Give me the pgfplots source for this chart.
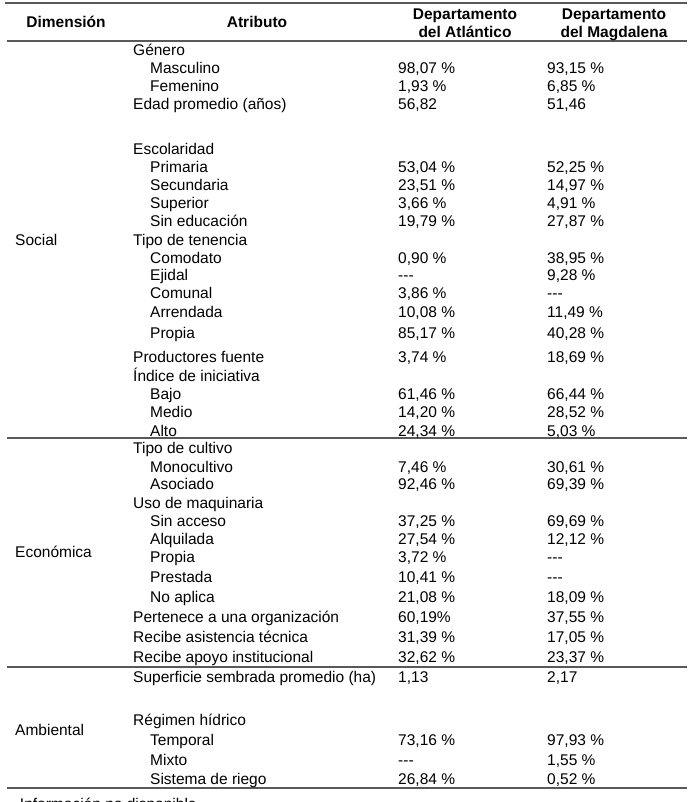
\documentclass[border=0pt]{standalone}
\usepackage{fontspec}
\setmainfont{Liberation Sans}
\usepackage{pgfplots}
\pgfplotsset{compat=1.18}

\newcommand{\nd}{-{}-{}-}

\pgfplotsset{
  cell/.style={only marks, mark=none, point meta=explicit symbolic,
    nodes near coords, nodes near coords style={anchor=base west, inner sep=0pt,
      yshift=-5.6bp, text=black, font=\fontsize{15.5bp}{18bp}\selectfont}},
  head/.style={only marks, mark=none, point meta=explicit symbolic,
    nodes near coords, nodes near coords style={anchor=base, inner sep=0pt,
      yshift=-5.6bp, text=black, font=\fontsize{15.5bp}{18bp}\selectfont\bfseries}},
  rule/.style={black!65, line width=1.4bp, mark=none},
}

\begin{document}
\begin{tikzpicture}
\useasboundingbox (0,0) rectangle (693bp,802bp);
\begin{axis}[at={(0,0)}, anchor=south west, scale only axis,
  width=693bp, height=802bp, xmin=0, xmax=693, ymin=0, ymax=802,
  y dir=reverse, hide axis, clip=false]

% rules
\addplot[rule] coordinates {(5,3)(687,3)};
\addplot[rule] coordinates {(7,41)(687,41)};
\addplot[rule] coordinates {(7,438)(687,438)};
\addplot[rule] coordinates {(7,667)(687,667)};
\addplot[rule] coordinates {(7,788)(687,788)};

% header
\addplot[head] coordinates {
  (66,22) [Dimensión] (257,22) [Atributo]
  (465,14) [Departamento] (465,32) [del Atlántico]
  (614,14) [Departamento] (614,32) [del Magdalena]};

% dimension column
\addplot[cell] coordinates {(15,240) [Social] (15,552) [Económica] (15,730) [Ambiental]};

% attribute column, level 0
\addplot[cell] coordinates {
  (133,50) [Género] (133,104) [Edad promedio (años)] (133,149) [Escolaridad]
  (133,240) [Tipo de tenencia] (133,357) [Productores fuente] (133,376) [Índice de iniciativa]
  (133,448) [Tipo de cultivo] (133,503) [Uso de maquinaria]
  (133,617) [Pertenece a una organización] (133,637) [Recibe asistencia técnica]
  (133,657) [Recibe apoyo institucional]
  (133,677) [Superficie sembrada promedio (ha)] (133,720) [Régimen hídrico]};

% attribute column, level 1
\addplot[cell] coordinates {
  (150,68) [Masculino] (150,86) [Femenino]
  (150,167) [Primaria] (150,185) [Secundaria] (150,203) [Superior] (150,221) [Sin educación]
  (150,258) [Comodato] (150,275) [Ejidal] (150,293) [Comunal] (150,312) [Arrendada] (150,333) [Propia]
  (150,394) [Bajo] (150,412) [Medio] (150,431) [Alto]
  (150,467) [Monocultivo] (150,484) [Asociado]
  (150,521) [Sin acceso] (150,539) [Alquilada] (150,557) [Propia] (150,577) [Prestada] (150,597) [No aplica]
  (150,740) [Temporal] (150,760) [Mixto] (150,779) [Sistema de riego]};

% Departamento del Atlántico
\addplot[cell] coordinates {
  (398,68) [98,07 \%] (398,86) [1,93 \%] (398,104) [56,82]
  (398,167) [53,04 \%] (398,185) [23,51 \%] (398,203) [3,66 \%] (398,221) [19,79 \%]
  (398,258) [0,90 \%] (398,275) [\nd] (398,293) [3,86 \%] (398,312) [10,08 \%] (398,333) [85,17 \%]
  (398,357) [3,74 \%]
  (398,394) [61,46 \%] (398,412) [14,20 \%] (398,431) [24,34 \%]
  (398,467) [7,46 \%] (398,484) [92,46 \%]
  (398,521) [37,25 \%] (398,539) [27,54 \%] (398,557) [3,72 \%] (398,577) [10,41 \%] (398,597) [21,08 \%]
  (398,617) [60,19\%] (398,637) [31,39 \%] (398,657) [32,62 \%]
  (398,677) [1,13]
  (398,740) [73,16 \%] (398,760) [\nd] (398,779) [26,84 \%]};

% Departamento del Magdalena
\addplot[cell] coordinates {
  (547,68) [93,15 \%] (547,86) [6,85 \%] (547,104) [51,46]
  (547,167) [52,25 \%] (547,185) [14,97 \%] (547,203) [4,91 \%] (547,221) [27,87 \%]
  (547,258) [38,95 \%] (547,275) [9,28 \%] (547,293) [\nd] (547,312) [11,49 \%] (547,333) [40,28 \%]
  (547,357) [18,69 \%]
  (547,394) [66,44 \%] (547,412) [28,52 \%] (547,431) [5,03 \%]
  (547,467) [30,61 \%] (547,484) [69,39 \%]
  (547,521) [69,69 \%] (547,539) [12,12 \%] (547,557) [\nd] (547,577) [\nd] (547,597) [18,09 \%]
  (547,617) [37,55 \%] (547,637) [17,05 \%] (547,657) [23,37 \%]
  (547,677) [2,17]
  (547,740) [97,93 \%] (547,760) [1,55 \%] (547,779) [0,52 \%]};

% footnote, cut by the page edge as in the reference
\addplot[cell] coordinates {(0,804) [\nd{} Información no disponible]};
\end{axis}
\end{tikzpicture}
\end{document}
